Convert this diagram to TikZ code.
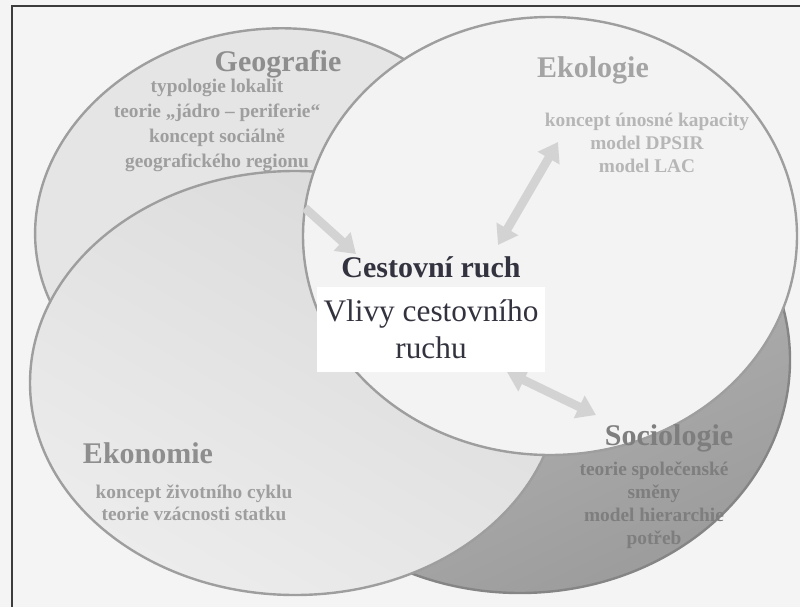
\documentclass[tikz,border=0pt]{standalone}
\usepackage{fontspec}
\setmainfont{Liberation Serif}
\usetikzlibrary{arrows.meta}
\definecolor{paper}{HTML}{F4F4F4}
\definecolor{frame}{HTML}{3C3C3C}
\definecolor{rim}{HTML}{9E9E9E}
\definecolor{geofill}{HTML}{E5E5E5}
\definecolor{ekofill}{HTML}{F3F3F3}
\definecolor{ekondark}{HTML}{DADADA}
\definecolor{ekonlight}{HTML}{ECECEC}
\definecolor{socdark}{HTML}{9C9C9C}
\definecolor{soclight}{HTML}{C0C0C0}
\definecolor{head}{HTML}{8E8E8E}
\definecolor{item}{HTML}{9E9E9E}
\definecolor{socitem}{HTML}{7E7E7E}
\definecolor{link}{HTML}{D3D3D3}
\definecolor{core}{HTML}{33333F}

\tikzset{
  title/.style={font=\fontsize{22.5}{27}\selectfont\bfseries, text=head, anchor=base},
  items/.style={font=\fontsize{14.5}{18}\selectfont\bfseries, text=item, align=center, anchor=base},
  link/.style={draw=link, line width=6.5pt, -{Triangle[width=18pt, length=14pt]}},
  rimline/.style={draw=rim, line width=1.8pt}
}

\begin{document}
\begin{tikzpicture}[x=0.75pt, y=-0.75pt]
  \useasboundingbox (0,0) rectangle (800,607);
  \fill[paper] (0,0) rectangle (800,607);

  % Frame of the page box
  \draw[frame, line width=1.8pt] (12,607) -- (12,6) -- (800,6);

  % Fields, back to front
  \shade[top color=soclight, bottom color=socdark, shading angle=25]
    (520,360) ellipse [x radius=202.5pt, y radius=174.75pt];
  \draw[rimline, draw=socdark!85!black] (520,360) ellipse [x radius=202.5pt, y radius=174.75pt];

  \filldraw[rimline, fill=geofill] (266,221) ellipse [x radius=174pt, y radius=143.5pt, rotate=10];

  \shade[top color=ekondark, bottom color=ekonlight, shading angle=-30]
    (295,383) ellipse [x radius=198.75pt, y radius=159pt];
  \draw[rimline] (295,383) ellipse [x radius=198.75pt, y radius=159pt];

  \filldraw[rimline, fill=ekofill] (550,236) ellipse [x radius=185.25pt, y radius=164.25pt];

  % Field labels (items: anchor on the last line)
  \node[title] (geoT) at (278,71) {Geografie};
  \node[items, font=\fontsize{14.5}{18.75}\selectfont\bfseries] (geoL) at (217,167)
    {typologie lokalit\\teorie „jádro – periferie“\\koncept sociálně\\geografického regionu};

  \node[title, text=head!80] (ekoT) at (593,77) {Ekologie};
  \node[items, text=item!75, font=\fontsize{14.5}{17.25}\selectfont\bfseries] (ekoL) at (647,172)
    {koncept únosné kapacity\\model DPSIR\\model LAC};

  \node[title] (ekonT) at (148,463) {Ekonomie};
  \node[items, font=\fontsize{14.5}{16.5}\selectfont\bfseries] (ekonL) at (194,520)
    {koncept životního cyklu\\teorie vzácnosti statku};

  \node[title, text=socitem] (socT) at (669,445) {Sociologie};
  \node[items, text=socitem, font=\fontsize{14.5}{17.25}\selectfont\bfseries] (socL) at (654,544)
    {teorie společenské\\směny\\model hierarchie\\potřeb};

  % Links towards the centre
  \coordinate (geoA) at (305,208);
  \coordinate (geoB) at (356,254);
  \coordinate (ekoA) at (498,245);
  \coordinate (ekoB) at (558,142);
  \coordinate (socA) at (507,372);
  \coordinate (socB) at (596,415);
  \draw[link] (geoA) -- (geoB);
  \draw[link, {Triangle[width=18pt, length=14pt]}-{Triangle[width=18pt, length=14pt]}] (ekoA) -- (ekoB);
  \draw[link, {Triangle[width=18pt, length=14pt]}-{Triangle[width=18pt, length=14pt]}] (socA) -- (socB);

  % Centre
  \node[font=\fontsize{22.5}{27}\selectfont\bfseries, text=core, anchor=base] (cr) at (431,277) {Cestovní ruch};
  \node[fill=white, minimum width=171pt, minimum height=64pt, inner sep=0pt, align=center,
        font=\fontsize{23.5}{27.75}\selectfont, text=core] (vl) at (431,329.5)
    {Vlivy cestovního\\ruchu};
\end{tikzpicture}
\end{document}
